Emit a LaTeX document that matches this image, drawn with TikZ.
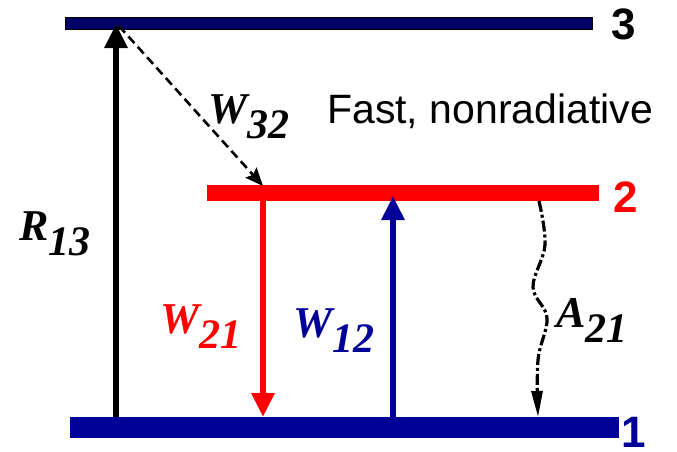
\documentclass[tikz,border=0pt]{standalone}
\usepackage{fontspec}
\setmainfont{Liberation Sans}
\newfontfamily\ratefont{Liberation Serif}
\usetikzlibrary{arrows.meta,positioning}
\definecolor{Navy}{HTML}{000066}
\definecolor{Blue}{HTML}{000099}
\definecolor{Red}{HTML}{FF0000}
\newcommand{\rate}[2]{{\ratefont\bfseries\itshape\fontsize{44}{48}\selectfont #1\raisebox{-15pt}{\fontsize{42}{46}\selectfont #2}}}
\tikzset{
  band/.style={rectangle,inner sep=0pt,outer sep=0pt},
  lvlnum/.style={font=\bfseries\fontsize{44}{48}\selectfont,inner sep=0pt,anchor=base},
  ratelab/.style={inner sep=0pt,anchor=base west},
  pump/.style={-{Triangle[length=24pt,width=22pt]},line width=6pt},
  relax/.style={-{Stealth[length=18pt,width=15pt,inset=3pt]},line width=2.6pt,dash pattern=on 9pt off 5pt},
  spont/.style={-{Triangle[length=26pt,width=11pt]},line width=3.2pt,dash pattern=on 11pt off 3pt on 3pt off 3pt}
}

\begin{document}
\begin{tikzpicture}[x=1pt,y=-1pt]
  \useasboundingbox (0,0) rectangle (677,451);
  \node[band,fill=Navy,draw=black,line width=1pt,minimum width=527pt,minimum height=12pt] (L3) at (328.5,23) {};
  \node[band,fill=Red,minimum width=392pt,minimum height=16pt] (L2) at (403,193) {};
  \node[band,fill=Blue,minimum width=549pt,minimum height=21pt] (L1) at (344.5,427.5) {};
  \node[lvlnum] (n3) at (624,39) {3};
  \node[lvlnum,text=Red] (n2) at (626,212) {2};
  \node[lvlnum,text=Blue] (n1) at (634,447) {1};
  \coordinate (r13a) at (116,417);
  \coordinate (r13b) at (116,24);
  \coordinate (w32a) at (119,26);
  \coordinate (w32b) at (263,186);
  \coordinate (w21a) at (263,201);
  \coordinate (w21b) at (263,417);
  \coordinate (w12a) at (393,417);
  \coordinate (w12b) at (393,196);
  \coordinate (a21a) at (539,201);
  \coordinate (a21b) at (538,417);
  \draw[pump,black] (r13a) -- (r13b);
  \draw[relax] (w32a) -- (w32b);
  \draw[pump,Red] (w21a) -- (w21b);
  \draw[pump,Blue] (w12a) -- (w12b);
  \draw[spont] plot[smooth,tension=0.6] coordinates {(a21a) (545,245) (533,287) (547,318) (538,360) (a21b)};
  \node[ratelab] (R13) at (19,240) {\rate{R}{13}};
  \node[ratelab] (W32) at (208,123) {\rate{W}{32}};
  \node[ratelab,text=Red] (W21) at (160,333) {\rate{W}{21}};
  \node[ratelab,text=Blue] (W12) at (293,337) {\rate{W}{12}};
  \node[ratelab] (A21) at (556,327) {\rate{A}{21}};
  \node[ratelab,font=\fontsize{41}{45}\selectfont] (fast) at (327,123) {Fast, nonradiative};
\end{tikzpicture}
\end{document}
